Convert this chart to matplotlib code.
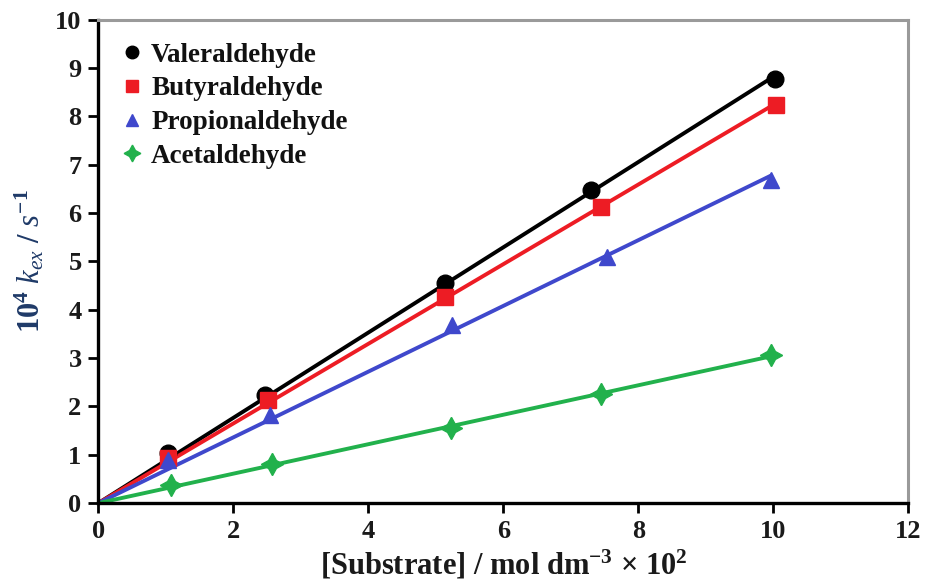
import numpy as np
import matplotlib
matplotlib.use("Agg")
import matplotlib.pyplot as plt

# [Substrate] x 10^2 (mol dm^-3) and 10^4 k_ex (s^-1)
valer_x = [1.04, 2.47, 5.13, 7.30, 10.03]
valer_y = [1.03, 2.24, 4.55, 6.48, 8.78]
butyr_x = [1.04, 2.52, 5.14, 7.44, 10.04]
butyr_y = [0.93, 2.13, 4.26, 6.13, 8.24]
propi_x = [1.04, 2.55, 5.24, 7.53, 9.96]
propi_y = [0.89, 1.82, 3.69, 5.09, 6.69]
acet_x = [1.07, 2.58, 5.23, 7.45, 9.97]
acet_y = [0.37, 0.81, 1.55, 2.26, 3.06]

labels = ["Valeraldehyde", "Butyraldehyde", "Propionaldehyde", "Acetaldehyde"]
colors = ["#000000", "#ED1C24", "#3F48CC", "#22B14C"]
markers = ["o", "s", "^", (4, 1, 0)]
sizes = [12, 11, 12, 16]

plt.rcParams["font.family"] = ["Liberation Serif", "DejaVu Serif"]
plt.rcParams["mathtext.fontset"] = "custom"
plt.rcParams["mathtext.rm"] = "Liberation Serif:bold"
plt.rcParams["mathtext.it"] = "Liberation Serif:italic"
plt.rcParams["mathtext.bf"] = "Liberation Serif:bold"

fig = plt.figure(figsize=(9.27, 5.81), dpi=100)
ax = fig.add_axes([0.106, 0.134, 0.874, 0.832])

series = [(valer_x, valer_y), (butyr_x, butyr_y), (propi_x, propi_y), (acet_x, acet_y)]
for (xs, ys), lab, c, m, s in zip(series, labels, colors, markers, sizes):
    xs = np.asarray(xs); ys = np.asarray(ys)
    # least-squares line forced through the origin
    k = np.sum(xs * ys) / np.sum(xs * xs)
    xl = np.array([0, xs.max()])
    ax.plot(xl, k * xl, color=c, lw=2.8, zorder=2)
    ax.plot(xs, ys, ls="none", marker=m, ms=s, color=c, mec=c, label=lab, zorder=3)

ax.set_xlim(0, 12)
ax.set_ylim(0, 10)
ax.set_xticks(range(0, 13, 2))
ax.set_yticks(range(0, 11))
for sp in ["left", "bottom"]:
    ax.spines[sp].set_linewidth(2.4)
    ax.spines[sp].set_color("black")
for sp in ["top", "right"]:
    ax.spines[sp].set_linewidth(2.2)
    ax.spines[sp].set_color("#9a9a9a")
ax.tick_params(axis="both", direction="out", length=7, width=2, labelsize=19, pad=5)
for t in ax.get_xticklabels() + ax.get_yticklabels():
    t.set_fontweight("bold")
    t.set_color("#1a1a1a")

ax.set_xlabel(r"[Substrate] / mol dm$^{-3}$ $\times$ 10$^{2}$",
              fontsize=22, fontweight="bold", color="#1a1a1a", labelpad=4)
ax.set_ylabel(r"10$^4$ $k_{ex}$ / $s^{-1}$", fontsize=22, fontweight="bold",
              color="#1F3A68", labelpad=6)

leg = ax.legend(loc="upper left", bbox_to_anchor=(-0.005, 1.003), frameon=False,
                prop={"weight": "bold", "size": 19.5}, handletextpad=0.2,
                labelspacing=0.32, handlelength=1.0, markerscale=0.75)
for t in leg.get_texts():
    t.set_color("#111111")

fig.savefig("out.png", dpi=100)
